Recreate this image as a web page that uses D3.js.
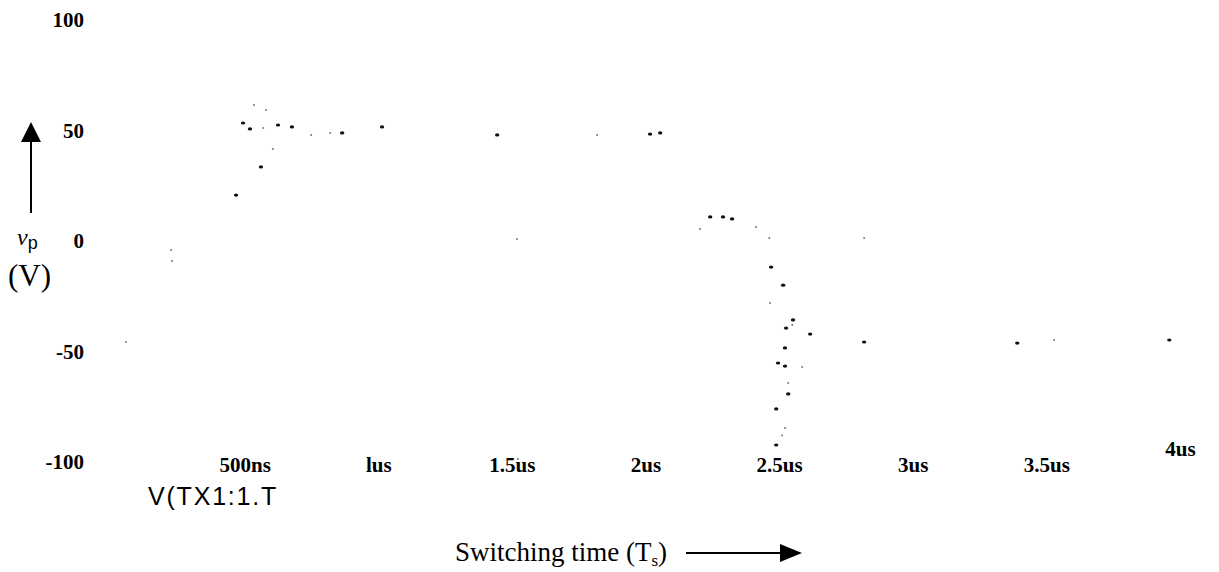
<!DOCTYPE html>
<html>
<head>
<meta charset="utf-8">
<script src="https://cdn.jsdelivr.net/npm/d3@7"></script>
<style>
  body { margin: 0; background: #fff; }
  svg { display: block; }
</style>
</head>
<body>
<div id="chart"></div>
<script>
// tick labels
var yTicks = [100, 50, 0, -50, -100];
var xTicks = [0.5, 1, 1.5, 2, 2.5, 3, 3.5, 4];
var xTickLabels = ["500ns", "lus", "1.5us", "2us", "2.5us", "3us", "3.5us", "4us"];

// trace of V(TX1:1.T) as it survives in the scan: dark specks (time in us, volts)
var darkT = [0.468, 0.561, 0.494, 0.520, 0.625, 0.677, 0.865, 1.014, 1.445, 2.017, 2.055,
             2.242, 2.290, 2.324, 2.470, 2.515, 2.552, 2.526, 2.616, 2.818, 2.522, 2.522,
             2.496, 2.534, 2.489, 2.489, 3.391, 3.960];
var darkV = [20.8, 33.5, 53.4, 50.7, 52.5, 51.6, 48.9, 51.6, 48.0, 48.4, 48.9,
             10.9, 10.9, 10.0, -11.8, -20.0, -35.7, -39.4, -42.1, -45.7, -48.4, -56.6,
             -55.2, -69.2, -76.0, -92.3, -46.2, -44.8];

// faint specks
var faintT = [0.056, 0.225, 0.228, 0.535, 0.580, 0.569, 0.606, 0.749, 0.820, 1.819, 1.519,
              1.523, 2.204, 2.414, 2.463, 2.818, 2.466, 2.549, 2.586, 2.534, 2.522, 3.529, 2.511];
var faintV = [-45.7, -4.1, -9.0, 61.5, 59.3, 51.1, 41.6, 48.0, 48.9, 48.0, 0.9,
              -98.6, 5.4, 6.3, 1.4, 1.4, -28.1, -38.0, -57.0, -64.3, -84.6, -44.8, -88.0];

var width = 1219, height = 572;

var svg = d3.select("#chart").append("svg")
    .attr("width", width)
    .attr("height", height);

var x = d3.scaleLinear().domain([0, 4]).range([111, 1180]);
var y = d3.scaleLinear().domain([-100, 100]).range([462, 20]);

// Y axis labels (no line, no ticks), plain hyphen for minus like the scan
var yAxis = svg.append("g")
    .attr("transform", "translate(84,0)")
    .call(d3.axisLeft(y).tickValues(yTicks).tickSize(0).tickPadding(0)
        .tickFormat(function(d) { return String(d); }));
yAxis.select(".domain").remove();
yAxis.selectAll("text")
    .style("font-family", "'Liberation Serif', serif")
    .style("font-weight", "bold")
    .style("font-size", "21px")
    .attr("fill", "#000");

// X axis labels
var xAxis = svg.append("g")
    .attr("transform", "translate(0,457)")
    .call(d3.axisBottom(x).tickValues(xTicks).tickSize(0).tickPadding(0)
        .tickFormat(function(d, i) { return xTickLabels[i]; }));
xAxis.select(".domain").remove();
xAxis.selectAll("text")
    .style("font-family", "'Liberation Serif', serif")
    .style("font-weight", "bold")
    .style("font-size", "21px")
    .attr("fill", "#000")
    .attr("dy", function(d, i) { return i == xTicks.length - 1 ? "-0.05em" : "0.71em"; });

// trace specks
var dark = darkT.map(function(t, i) { return {t: t, v: darkV[i]}; });
var faint = faintT.map(function(t, i) { return {t: t, v: faintV[i]}; });

svg.selectAll(".faint")
    .data(faint)
    .enter()
    .append("circle")
    .attr("class", "faint")
    .attr("cx", function(d) { return x(d.t); })
    .attr("cy", function(d) { return y(d.v); })
    .attr("r", 1)
    .attr("fill", "#777");

svg.selectAll(".dark")
    .data(dark)
    .enter()
    .append("ellipse")
    .attr("class", "dark")
    .attr("cx", function(d) { return x(d.t); })
    .attr("cy", function(d) { return y(d.v); })
    .attr("rx", 2.2)
    .attr("ry", 1.6)
    .attr("fill", "#111");

// vertical arrow beside the Y labels
svg.append("line")
    .attr("x1", 31).attr("x2", 31)
    .attr("y1", 140).attr("y2", 213)
    .attr("stroke", "#000")
    .attr("stroke-width", 2);
svg.append("path")
    .attr("d", "M31,122 L41,142 L21,142 Z")
    .attr("fill", "#000");

// Y axis title v_p (V)
var vp = svg.append("text")
    .attr("x", 17)
    .attr("y", 245)
    .style("font-family", "'Liberation Serif', serif")
    .style("font-size", "24px")
    .attr("fill", "#000");
vp.append("tspan").style("font-style", "italic").text("v");
vp.append("tspan")
    .attr("dy", 4)
    .style("font-family", "'Liberation Sans', sans-serif")
    .style("font-size", "18px")
    .text("p");

svg.append("text")
    .attr("x", 8)
    .attr("y", 286)
    .style("font-family", "'Liberation Serif', serif")
    .style("font-size", "31px")
    .attr("fill", "#000")
    .text("(V)");

// trace name
svg.append("text")
    .attr("x", 148)
    .attr("y", 505)
    .style("font-family", "'Liberation Sans', sans-serif")
    .style("font-size", "25px")
    .style("letter-spacing", "1.8px")
    .attr("fill", "#000")
    .text("V(TX1:1.T");

// X axis title with arrow
var xt = svg.append("text")
    .attr("x", 455)
    .attr("y", 561)
    .style("font-family", "'Liberation Serif', serif")
    .style("font-size", "27px")
    .attr("fill", "#000");
xt.append("tspan").text("Switching time (T");
xt.append("tspan").attr("dy", 5).style("font-size", "17px").text("s");
xt.append("tspan").attr("dy", -5).text(")");

svg.append("line")
    .attr("x1", 686).attr("x2", 785)
    .attr("y1", 553).attr("y2", 553)
    .attr("stroke", "#000")
    .attr("stroke-width", 2);
svg.append("path")
    .attr("d", "M802,553 L780,544 L780,562 Z")
    .attr("fill", "#000");
</script>
</body>
</html>
